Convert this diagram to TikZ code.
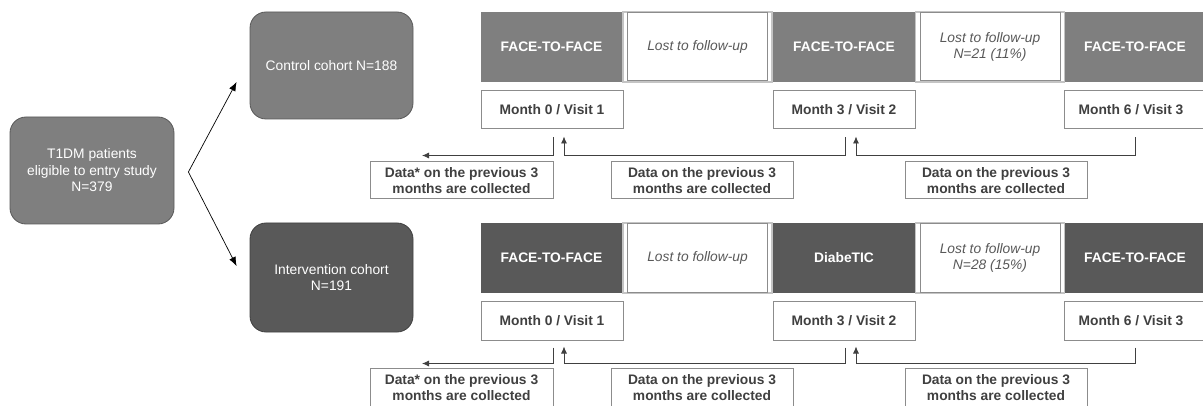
\documentclass[tikz,border=0pt]{standalone}
\usepackage{fontspec}
\setmainfont{Liberation Sans}
\usetikzlibrary{arrows.meta,calc}
\definecolor{midgray}{HTML}{7F7F7F}
\definecolor{darkgray2}{HTML}{595959}
\definecolor{textgray}{HTML}{404040}
\definecolor{framegray}{HTML}{8C8C8C}
\definecolor{lightframe}{HTML}{C4C4C4}
\definecolor{lostgray}{HTML}{595959}
\newcommand\fsz{\fontsize{13.8}{16.5}\selectfont}
\begin{document}
\begin{tikzpicture}[x=1pt,y=1pt,
  cohortbox/.style={rounded corners=16pt, text=white, align=center, line width=0.8pt,
    inner sep=0pt, minimum width=164pt, minimum height=107pt, font=\fsz},
  visitbox/.style={fill=#1, text=white, font=\fsz\bfseries, minimum height=70pt,
    minimum width=142pt, inner sep=0pt},
  lostframe/.style={fill=white, draw=lightframe, line width=1.2pt, minimum height=70pt,
    minimum width=149pt, inner sep=0pt},
  lostbox/.style={fill=white, draw=framegray, line width=1pt, text=lostgray,
    font=\fsz\itshape, align=center, minimum height=68pt, minimum width=140pt, inner sep=0pt},
  monthbox/.style={draw=framegray, line width=1pt, fill=white, text=textgray,
    font=\fsz\bfseries, minimum height=38pt, minimum width=142pt, inner sep=0pt},
  databox/.style={draw=framegray, line width=1pt, fill=white, text=textgray,
    font=\fsz\bfseries, align=center, minimum height=37pt, minimum width=182pt, inner sep=0pt},
  link/.style={draw=textgray, line width=0.8pt},
  tip/.style={-{Latex[length=7pt,width=6pt]}},
  split/.style={draw=black, line width=0.7pt, -{Latex[length=9pt,width=7pt]}}
]
\useasboundingbox (0,0) rectangle (1203,405);
\clip (0,0) rectangle (1203,405);

% cohort boxes
\node[cohortbox, fill=midgray, draw=darkgray2] (t1) at (92,234.5)
  {T1DM patients\\eligible to entry study\\N=379};
\node[cohortbox, fill=midgray, draw=darkgray2, minimum width=163pt] (ctrl) at (331.5,339.5)
  {Control cohort N=188};
\node[cohortbox, fill=darkgray2, draw=textgray, minimum width=163pt, minimum height=109pt] (intv) at (331.5,127.5)
  {Intervention cohort\\N=191};

\coordinate (sp) at ($(t1.east)+(14,-1.5)$);
\coordinate (ct) at ($(ctrl.west)+(-13,-16.5)$);
\coordinate (it) at ($(intv.west)+(-13,11.5)$);
\draw[split] (sp) -- (ct);
\draw[split] (sp) -- (it);

% ---------- control row ----------
\node[visitbox=midgray] (cf1) at (551.5,358) {FACE-TO-FACE};
\node[visitbox=midgray] (cf2) at (844,358) {FACE-TO-FACE};
\node[visitbox=midgray, minimum width=150pt] (cf3) at (1139,358) {};
\node[font=\fsz\bfseries, text=white] (cf3t) at (1135,358) {FACE-TO-FACE};
\node[lostframe] (clf1) at (697.5,358) {};
\node[lostbox] (cl1) at (697.5,358) {Lost to follow-up};
\node[lostframe] (clf2) at (990,358) {};
\node[lostbox] (cl2) at (990,358) {Lost to follow-up\\N=21 (11\%)};

\node[monthbox] (cm0) at (552,295) {Month 0 / Visit 1};
\node[monthbox] (cm3) at (844,295) {Month 3 / Visit 2};
\node[monthbox, minimum width=150pt] (cm6) at (1139,295) {};
\node[font=\fsz\bfseries, text=textgray] (cm6t) at (1131,295) {Month 6 / Visit 3};

\node[databox, minimum width=183pt] (cd0) at (461.5,224.5) {Data* on the previous 3\\months are collected};
\node[databox] (cd1) at (702,224.5) {Data on the previous 3\\months are collected};
\node[databox] (cd2) at (996,224.5) {Data on the previous 3\\months are collected};

\draw[link,tip] ($(cm0.south)+(1,-8)$) -- ($(cm0.south)+(1,-26)$) -- ($(cm0.south)+(-130,-26)$);
\draw[link,tip] ($(cm3.south)+(1,-8)$) -- ($(cm3.south)+(1,-26)$) -| ($(cm0.south)+(12,-7)$);
\draw[link,tip] ($(cm6.south)+(-4,-8)$) -- ($(cm6.south)+(-4,-26)$) -| ($(cm3.south)+(12,-7)$);

% ---------- intervention row ----------
\node[visitbox=darkgray2] (if1) at (551.5,147) {FACE-TO-FACE};
\node[visitbox=darkgray2] (if2) at (844,147) {DiabeTIC};
\node[visitbox=darkgray2, minimum width=150pt] (if3) at (1139,147) {};
\node[font=\fsz\bfseries, text=white] (if3t) at (1135,147) {FACE-TO-FACE};
\node[lostframe] (ilf1) at (697.5,147) {};
\node[lostbox] (il1) at (697.5,147) {Lost to follow-up};
\node[lostframe] (ilf2) at (990,147) {};
\node[lostbox] (il2) at (990,147) {Lost to follow-up\\N=28 (15\%)};

\node[monthbox, minimum height=39pt] (im0) at (552,84.5) {Month 0 / Visit 1};
\node[monthbox, minimum height=39pt] (im3) at (844,84.5) {Month 3 / Visit 2};
\node[monthbox, minimum height=39pt, minimum width=150pt] (im6) at (1139,84.5) {};
\node[font=\fsz\bfseries, text=textgray] (im6t) at (1131,84.5) {Month 6 / Visit 3};

\node[databox, minimum width=183pt, minimum height=38pt] (id0) at (461.5,17.5) {Data* on the previous 3\\months are collected};
\node[databox, minimum height=38pt] (id1) at (702,17.5) {Data on the previous 3\\months are collected};
\node[databox, minimum height=38pt] (id2) at (996,17.5) {Data on the previous 3\\months are collected};

\draw[link,tip] ($(im0.south)+(1,-7)$) -- ($(im0.south)+(1,-23)$) -- ($(im0.south)+(-130,-23)$);
\draw[link,tip] ($(im3.south)+(1,-7)$) -- ($(im3.south)+(1,-23)$) -| ($(im0.south)+(12,-6)$);
\draw[link,tip] ($(im6.south)+(-4,-7)$) -- ($(im6.south)+(-4,-23)$) -| ($(im3.south)+(12,-6)$);
\end{tikzpicture}
\end{document}
